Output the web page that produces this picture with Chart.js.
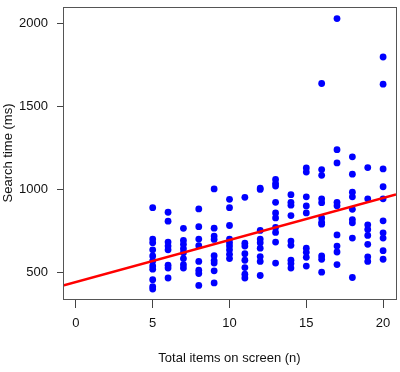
<!DOCTYPE html>
<html>
<head>
<meta charset="utf-8">
<script src="https://cdn.jsdelivr.net/npm/chart.js@4.4.0/dist/chart.umd.min.js"></script>
<style>
  html, body { margin: 0; padding: 0; background: #fff; }
  #wrap { width: 400px; height: 372px; }
</style>
</head>
<body>
<div id="wrap"><canvas id="chart" width="400" height="372"></canvas></div>
<script>
// Items on screen (x) and search times, one list per x value
const itemCounts = [5, 6, 7, 8, 9, 10, 11, 12, 13, 14, 15, 16, 17, 18, 19, 20];
const searchTimes = [
    [890, 700, 678, 635, 598, 568, 538, 518, 455, 412, 398],
    [862, 808, 682, 658, 635, 542, 525, 465],
    [765, 692, 668, 642, 618, 582, 545, 525],
    [882, 775, 700, 660, 565, 512, 492, 420],
    [1003, 766, 718, 698, 600, 570, 555, 508, 435],
    [940, 890, 782, 700, 678, 658, 635, 608, 582],
    [952, 675, 658, 612, 572, 528, 488, 465],
    [1008, 1000, 752, 700, 678, 645, 594, 565, 480],
    [1060, 1035, 1020, 922, 858, 828, 770, 740, 682, 555],
    [968, 922, 905, 842, 688, 662, 572, 552, 525],
    [1130, 1105, 955, 900, 858, 645, 620, 590, 537],
    [1640, 1120, 1085, 943, 920, 828, 802, 790, 598, 578, 500],
    [2032, 1240, 1160, 922, 902, 725, 658, 622, 546],
    [1197, 1092, 983, 955, 880, 818, 798, 706, 468],
    [1132, 943, 786, 758, 722, 668, 593, 565],
    [1800, 1636, 1124, 1016, 943, 810, 738, 706, 630, 578]
];

// regression line
const fitIntercept = 440;
const fitSlope = 25.4;

// axis limits and ticks
const xMin = -0.84, xMax = 20.84;
const yMin = 338, yMax = 2102;
const xTicks = [0, 5, 10, 15, 20];
const yTicks = [500, 1000, 1500, 2000];

const points = [];
itemCounts.forEach((n, i) => {
    searchTimes[i].forEach(t => points.push({ x: n, y: t }));
});

const fitLine = [
    { x: xMin, y: fitIntercept + fitSlope * xMin },
    { x: xMax, y: fitIntercept + fitSlope * xMax }
];

// draws the box round the plot area, like R's box()
const boxPlugin = {
    id: 'box',
    afterDraw(chart) {
        const a = chart.chartArea;
        const ctx = chart.ctx;
        ctx.save();
        ctx.strokeStyle = '#555';
        ctx.lineWidth = 1;
        ctx.strokeRect(Math.round(a.left) + 0.5, Math.round(a.top) + 0.5,
            Math.round(a.right - a.left), Math.round(a.bottom - a.top));
        ctx.restore();
    }
};

const font = { family: '"Liberation Sans", Arial, sans-serif', size: 13 };

new Chart(document.getElementById('chart'), {
    type: 'scatter',
    data: {
        datasets: [
            {
                type: 'line',
                data: fitLine,
                borderColor: '#ff0000',
                borderWidth: 2.5,
                pointRadius: 0,
                fill: false
            },
            {
                data: points,
                backgroundColor: '#0000ff',
                borderWidth: 0,
                pointRadius: 3.4
            }
        ]
    },
    options: {
        responsive: false,
        animation: false,
        layout: { padding: { top: 7, right: 3, left: 0, bottom: 0 } },
        plugins: {
            legend: { display: false },
            tooltip: { enabled: false }
        },
        scales: {
            x: {
                type: 'linear',
                min: xMin,
                max: xMax,
                afterFit: s => { s.height = 73; s.paddingLeft = 0; s.paddingRight = 0; },
                afterBuildTicks: s => { s.ticks = xTicks.map(v => ({ value: v })); },
                border: { display: false },
                grid: { drawOnChartArea: false, drawTicks: true, tickLength: 9, color: '#444' },
                ticks: { font: font, color: '#111', padding: 8, maxRotation: 0, callback: v => String(v) },
                title: { display: true, text: 'Total items on screen (n)', font: font, color: '#111', padding: { bottom: 6 } }
            },
            y: {
                min: yMin,
                max: yMax,
                afterFit: s => { s.width = 63; s.paddingTop = 0; s.paddingBottom = 0; },
                afterBuildTicks: s => { s.ticks = yTicks.map(v => ({ value: v })); },
                border: { display: false },
                grid: { drawOnChartArea: false, drawTicks: true, tickLength: 6, color: '#444' },
                ticks: { font: font, color: '#111', padding: 9, callback: v => String(v) },
                title: { display: true, text: 'Search time (ms)', font: font, color: '#111', padding: { top: 1 } }
            }
        }
    },
    plugins: [boxPlugin]
});
</script>
</body>
</html>
